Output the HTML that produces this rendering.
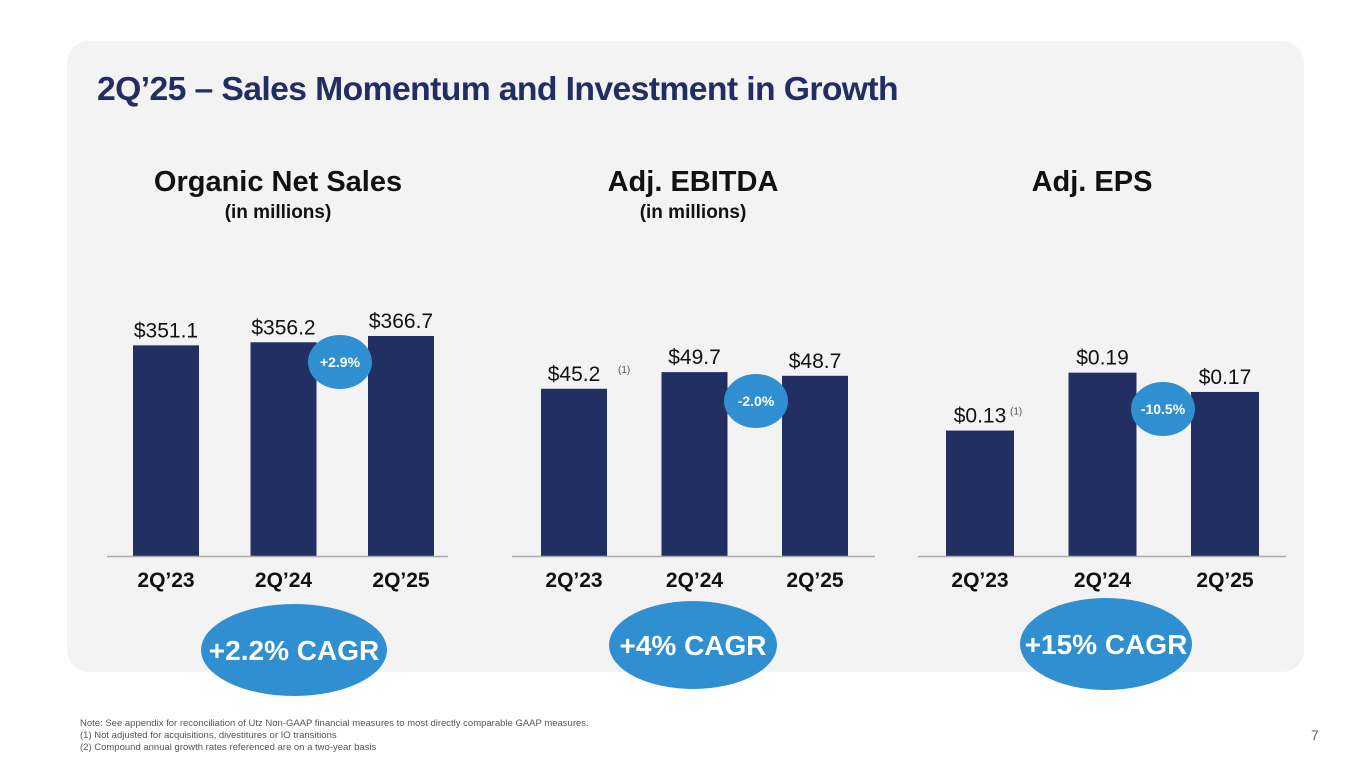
<!DOCTYPE html>
<html><head><meta charset="utf-8"><style>
body{margin:0;width:1365px;height:768px;background:#fff;overflow:hidden;font-family:"Liberation Sans",sans-serif}
</style></head><body>
<svg id="s" width="1365" height="768">
<rect x="67" y="41" width="1237" height="631" rx="22" fill="#f3f3f3"/>
<text x="97" y="100" font-size="33" font-weight="bold" fill="#222d64" letter-spacing="-0.6" textLength="801" lengthAdjust="spacingAndGlyphs">2Q’25 – Sales Momentum and Investment in Growth</text>
<text x="80" y="726" font-size="9.5" fill="#555">Note: See appendix for reconciliation of Utz Non-GAAP financial measures to most directly comparable GAAP measures.</text>
<text x="80" y="738" font-size="9.5" fill="#555">(1)    Not adjusted for acquisitions, divestitures or IO transitions</text>
<text x="80" y="750" font-size="9.5" fill="#555">(2)    Compound annual growth rates referenced are on a two-year basis</text>
<text x="1311" y="740" font-size="14" fill="#666">7</text>
</svg>
<script>
const categories=["2Q’23","2Q’24","2Q’25"];
const salesValues=[351.1,356.2,366.7];
const ebitdaValues=[45.2,49.7,48.7];
const epsValues=[0.13,0.19,0.17];
const salesLabels=["$351.1","$356.2","$366.7"];
const ebitdaLabels=["$45.2","$49.7","$48.7"];
const epsLabels=["$0.13","$0.19","$0.17"];
const growthLabels=["+2.9%","-2.0%","-10.5%"];
const cagrLabels=["+2.2% CAGR","+4% CAGR","+15% CAGR"];
const titles=["Organic Net Sales","Adj. EBITDA","Adj. EPS"];
const subtitles=["(in millions)","(in millions)",""];
const svg=document.getElementById('s');
const NS="http://www.w3.org/2000/svg";
function mk(t,a,txt){const e=document.createElementNS(NS,t);for(const k in a)e.setAttribute(k,a[k]);if(txt!==undefined)e.textContent=txt;svg.appendChild(e);return e;}
const charts=[
 {vals:salesValues,labs:salesLabels,k:0.6,x0:133,step:117.5,w:66,line:[107,448],cx:278,sup:[],bub:[340,362],cagr:[294,650,93,46]},
 {vals:ebitdaValues,labs:ebitdaLabels,k:3.7,x0:541,step:120.5,w:66,line:[512,875],cx:693,sup:[0],bub:[756,401],cagr:[693,645,84,44]},
 {vals:epsValues,labs:epsLabels,k:965,x0:946,step:122.5,w:68,line:[918,1286],cx:1092,sup:[0],bub:[1163,409],cagr:[1106,644,86,46]}
];
const base=556;
charts.forEach((c,ci)=>{
 let e;
 e=mk('text',{x:c.cx,y:191,'font-size':29,'font-weight':'bold',fill:'#111','text-anchor':'middle'},titles[ci]);
 
 
 if(subtitles[ci]){e=mk('text',{x:c.cx,y:218,'font-size':19,'font-weight':'bold',fill:'#111','text-anchor':'middle'},subtitles[ci]);
 
 }
 c.vals.forEach((v,i)=>{
  const x=c.x0+i*c.step, h=v*c.k, y=base-h;
  e=mk('rect',{x:x,y:y,width:c.w,height:h,fill:'#212f63'});
  
  
  e=mk('text',{x:x+c.w/2,y:y-8,'font-size':21,fill:'#111','text-anchor':'middle'},c.labs[i]);
  
  
  if(c.sup.includes(i)){e=mk('text',{x:x+c.w/2+(ci==1?44:30),y:y-16,'font-size':10,fill:'#555'},'(1)');
  
  }
  e=mk('text',{x:x+c.w/2,y:587,'font-size':21,'font-weight':'bold',fill:'#111','text-anchor':'middle'},categories[i]);
  
  
 });
 e=mk('line',{x1:c.line[0],x2:c.line[1],y1:base+0.5,y2:base+0.5,stroke:'#aaa','stroke-width':1.5});
 
 
 e=mk('ellipse',{cx:c.bub[0],cy:c.bub[1],rx:32,ry:27,fill:'#2f8fd0'});
 
 
 e=mk('text',{x:c.bub[0],y:c.bub[1]+5,'font-size':14,'font-weight':'bold',fill:'#fff','text-anchor':'middle'},growthLabels[ci]);
 
 
 e=mk('ellipse',{cx:c.cagr[0],cy:c.cagr[1],rx:c.cagr[2],ry:c.cagr[3],fill:'#2f8fd0'});
 
 
 e=mk('text',{x:c.cagr[0],y:c.cagr[1]+10,'font-size':28,'font-weight':'bold',fill:'#fff','text-anchor':'middle'},cagrLabels[ci]);
 
 
});
</script>
</body></html>
